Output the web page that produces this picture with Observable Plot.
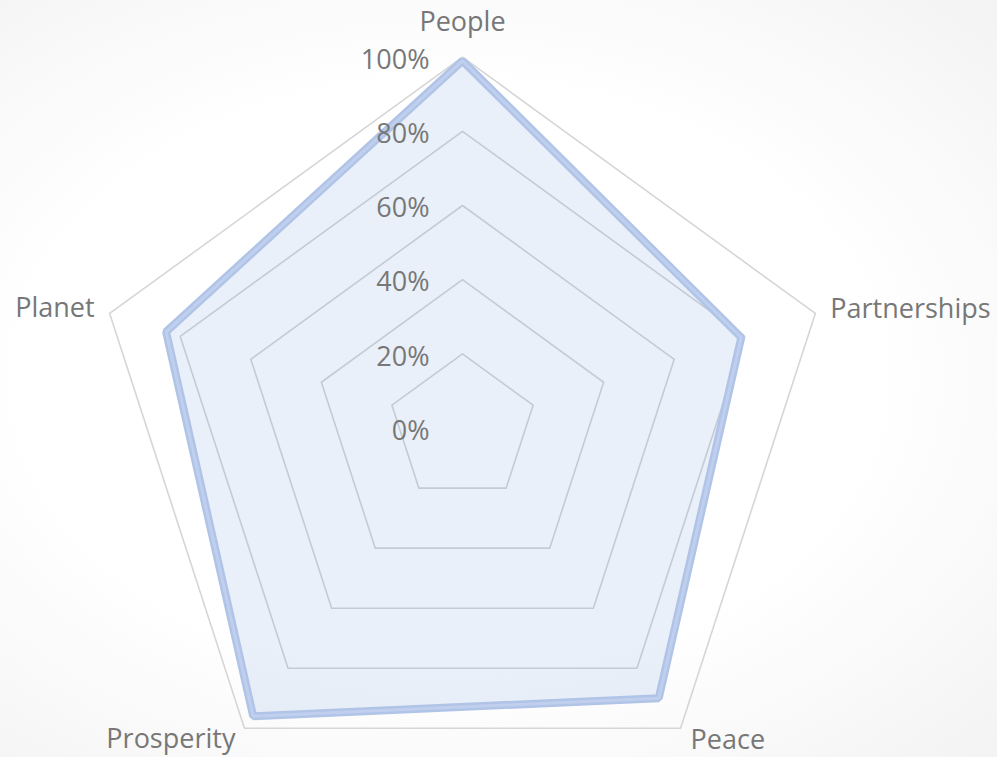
<!DOCTYPE html>
<html>
<head>
<meta charset="utf-8">
<script src="https://cdn.jsdelivr.net/npm/d3@7"></script>
<script src="https://cdn.jsdelivr.net/npm/@observablehq/plot@0.6"></script>
<style>
  html, body { margin: 0; padding: 0; }
  body { width: 997px; height: 757px; overflow: hidden;
    background: radial-gradient(ellipse at 45% 50%, #ffffff 55%, #f3f3f3 100%); }
  #chart svg { display: block; }
</style>
</head>
<body>
<div id="chart"></div>
<script>
// Data
const categories = ["People", "Partnerships", "Peace", "Prosperity", "Planet"];
const values = [99, 79, 90, 96, 84];            // percent
const gridLevels = [20, 40, 60, 80, 100];
const tickLevels = [0, 20, 40, 60, 80, 100];
const tickLabels = ["0%", "20%", "40%", "60%", "80%", "100%"];

// Geometry helpers (polar -> data coordinates, radius 1 = 100%)
const N = categories.length;
const ang = i => (i * 2 * Math.PI) / N;
const px = (r, i) => r * Math.sin(ang(i));
const py = (r, i) => r * Math.cos(ang(i));

const cx = 462, cy = 427.6, R = 371, W = 997, H = 757;

const gridPts = gridLevels.flatMap(l => categories.map((c, i) => ({level: l, x: px(l / 100, i), y: py(l / 100, i)})));
const dataPts = categories.map((c, i) => ({cat: c, x: px(values[i] / 100, i), y: py(values[i] / 100, i)}));
const ticks = tickLevels.map((l, k) => ({label: tickLabels[k], x: 0, y: l / 100}));
const catLabels = categories.map((c, i) => ({cat: c, x: px(1, i), y: py(1, i), i}));

const labelOpts = [
  {textAnchor: "middle", dx: 0, dy: -35},
  {textAnchor: "start", dx: 15, dy: -4},
  {textAnchor: "start", dx: 10, dy: 12},
  {textAnchor: "end", dx: -9, dy: 11},
  {textAnchor: "end", dx: -15, dy: -5}
];

const chart = Plot.plot({
  width: W,
  height: H,
  margin: 0,
  x: {domain: [-cx / R, (W - cx) / R], range: [0, W], axis: null},
  y: {domain: [-(H - cy) / R, cy / R], range: [H, 0], axis: null},
  style: {background: "transparent", fontFamily: "'Open Sans', Lato, sans-serif", fontSize: "27px"},
  marks: [
    Plot.line(gridPts, {x: "x", y: "y", z: "level", curve: "linear-closed", stroke: "#d6d6d6", strokeWidth: 1.6}),
    Plot.line(dataPts, {x: "x", y: "y", curve: "linear-closed", fill: "#4472c4", fillOpacity: 0.11, stroke: "none"}),
    Plot.line(dataPts, {x: "x", y: "y", curve: "linear-closed", stroke: "#b0c4e8", strokeWidth: 8, strokeLinejoin: "miter"}),
    Plot.line(dataPts, {x: "x", y: "y", curve: "linear-closed", stroke: "#c0cfed", strokeWidth: 3, strokeLinejoin: "miter"}),
    Plot.text(ticks, {x: "x", y: "y", text: "label", textAnchor: "end", dx: -33, dy: 3, fill: "#777777"}),
    ...catLabels.map(d => Plot.text([d], {x: "x", y: "y", text: "cat", fill: "#777777", ...labelOpts[d.i]}))
  ]
});
document.getElementById("chart").appendChild(chart);
</script>
</body>
</html>
